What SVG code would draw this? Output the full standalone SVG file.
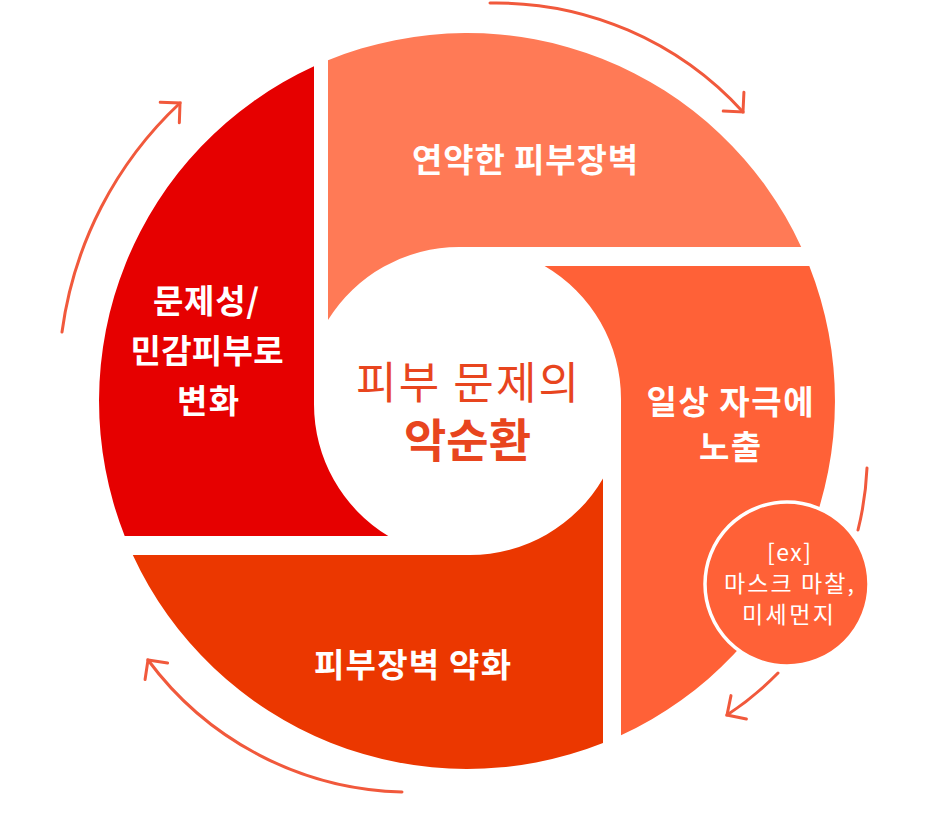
<svg xmlns="http://www.w3.org/2000/svg" width="942" height="821" viewBox="0 0 942 821">
  <style>
    .lbl { font-family: "Noto Sans CJK KR", "Noto Sans", sans-serif; font-weight: 700; font-size: 33px; fill: #ffffff; text-anchor: middle; }
    .ctr { font-family: "Noto Sans CJK KR", "Noto Sans", sans-serif; fill: #E8451E; text-anchor: middle; }
    .small { font-family: "Noto Sans CJK KR", "Noto Sans", sans-serif; font-weight: 400; font-size: 23px; fill: #ffffff; text-anchor: middle; }
    .arrow { fill: none; stroke: #F1593C; stroke-width: 3; stroke-linecap: round; }
  </style>
  <defs>
    <marker id="chev" markerUnits="userSpaceOnUse" markerWidth="40" markerHeight="40" viewBox="-20 -20 40 40" refX="0" refY="0" orient="auto">
      <path d="M-14,-14 L0,0 L-14,14" fill="none" stroke="#F1593C" stroke-width="3" stroke-linecap="round" stroke-linejoin="miter"/>
    </marker>
  </defs>
  <rect width="942" height="821" fill="#ffffff"/>

  <g id="seg-left">
    <path d="M314,66.3 L314,404 A154,154 0 0 0 388.3,536 L124.7,536 A368,368 0 0 1 314,66.3 Z" fill="#E60000"/>
    <text class="lbl" x="206" y="313" textLength="106">문제성/</text>
    <text class="lbl" x="207" y="363" textLength="153">민감피부로</text>
    <text class="lbl" x="208" y="413" textLength="62">변화</text>
  </g>

  <g id="seg-top">
    <path d="M328,60.3 L328,320 A154,154 0 0 1 459,247 L801.2,247 A368,368 0 0 0 328,60.3 Z" fill="#FF7A56"/>
    <text class="lbl" x="525" y="172" textLength="226">연약한 피부장벽</text>
  </g>

  <g id="seg-right">
    <path d="M544.6,266 L809.3,266 A368,368 0 0 1 621,735.2 L621,399 A154,154 0 0 0 544.6,266 Z" fill="#FF6137"/>
    <text class="lbl" x="730" y="414" textLength="167">일상 자극에</text>
    <text class="lbl" x="730" y="459" textLength="62">노출</text>
  </g>

  <g id="seg-bottom">
    <path d="M603,478.4 L603,742.9 A368,368 0 0 1 132.8,555 L470,555 A154,154 0 0 0 603,478.4 Z" fill="#EB3700"/>
    <text class="lbl" x="412.5" y="677" textLength="197">피부장벽 약화</text>
  </g>

  <g id="center">
    <text class="ctr" x="467.5" y="399" font-size="44" font-weight="400" textLength="223">피부 문제의</text>
    <text class="ctr" x="467.5" y="457" font-size="46" font-weight="700" textLength="127">악순환</text>
  </g>

  <g id="example">
    <circle cx="787" cy="584" r="82" fill="#FF6137" stroke="#ffffff" stroke-width="3.5"/>
    <text class="small" x="789" y="561" textLength="44">[ex]</text>
    <text class="small" x="789" y="592" textLength="130">마스크 마찰,</text>
    <text class="small" x="788" y="623" textLength="92">미세먼지</text>
  </g>

  <g id="connectors">
    <path class="arrow" d="M490,3 A334,334 0 0 1 743,112" marker-end="url(#chev)"/>
    <path class="arrow" d="M867,468 A312,312 0 0 1 858,530"/>
    <path class="arrow" d="M778,673 A312,312 0 0 1 727,715" marker-end="url(#chev)"/>
    <path class="arrow" d="M402,792 A326,326 0 0 1 148,660" marker-end="url(#chev)"/>
    <path class="arrow" d="M62,332 A383,383 0 0 1 180,103" marker-end="url(#chev)"/>
  </g>
</svg>
